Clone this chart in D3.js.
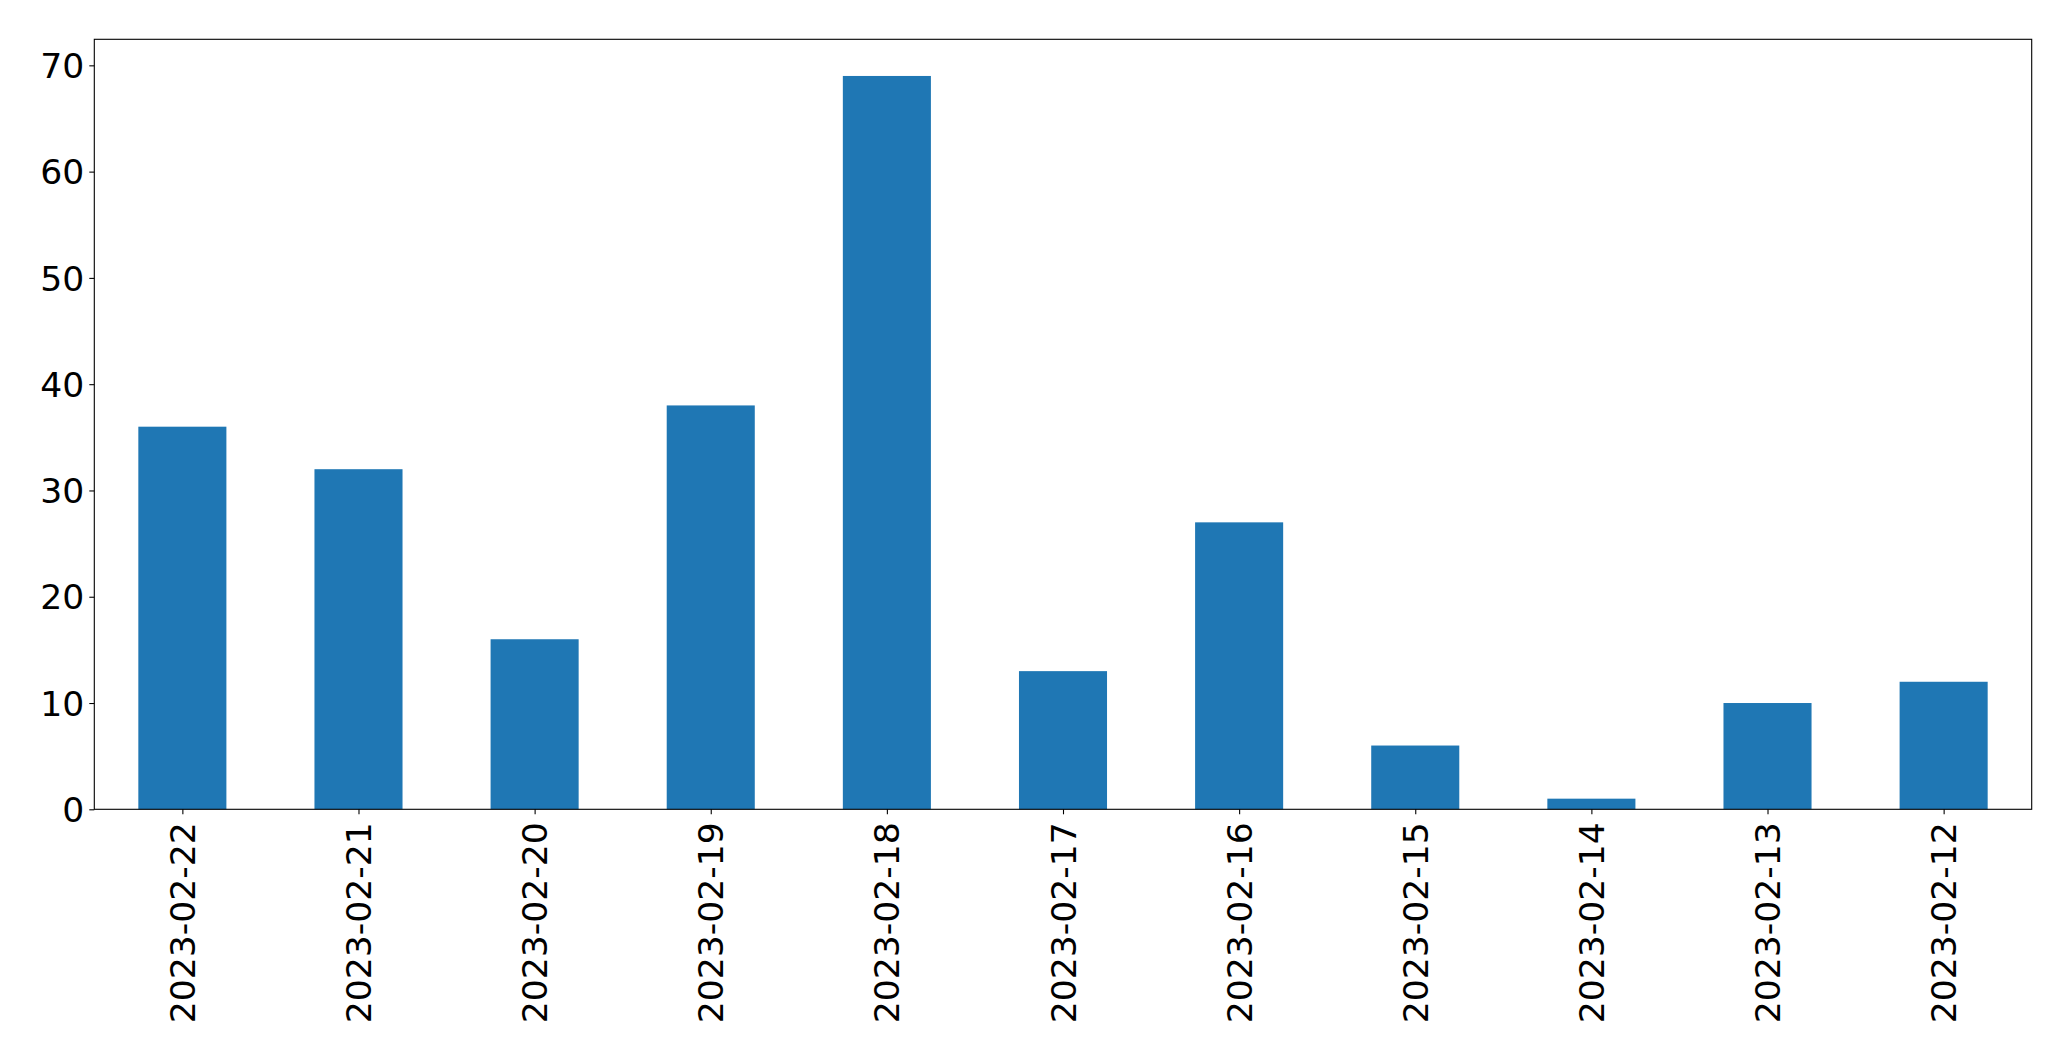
<!DOCTYPE html>
<html>
<head>
<meta charset="utf-8">
<script src="https://cdn.jsdelivr.net/npm/d3@7"></script>
<style>
html,body{margin:0;padding:0;background:#fff;}
svg{display:block;}
</style>
</head>
<body>
<script>
const categories = ["2023-02-22","2023-02-21","2023-02-20","2023-02-19","2023-02-18","2023-02-17","2023-02-16","2023-02-15","2023-02-14","2023-02-13","2023-02-12"];
const values = [36, 32, 16, 38, 69, 13, 27, 6, 1, 10, 12];
const yTicks = [0, 10, 20, 30, 40, 50, 60, 70];

const W = 2071, H = 1061;
const m = {left: 94.3, right: 2031.7, top: 39.3, bottom: 809.3};
const fontSize = 34.6;
const tickLen = 5, pad = 5;

const svg = d3.select("body").append("svg").attr("width", W).attr("height", H);

const x = d3.scaleLinear().domain([-0.5, categories.length - 0.5]).range([m.left, m.right]);
const yMax = d3.max(values) * 1.05;
const y = d3.scaleLinear().domain([0, yMax]).range([m.bottom, m.top]);

const barW = 0.5;
svg.append("g").selectAll("rect").data(values).join("rect")
  .attr("x", (d, i) => x(i - barW / 2))
  .attr("width", (d, i) => x(i + barW / 2) - x(i - barW / 2))
  .attr("y", d => y(d))
  .attr("height", d => y(0) - y(d))
  .attr("fill", "#1f77b4");

// frame
svg.append("rect")
  .attr("x", m.left).attr("y", m.top)
  .attr("width", m.right - m.left).attr("height", m.bottom - m.top)
  .attr("fill", "none").attr("stroke", "#000").attr("stroke-width", 1.1);

// y axis
const yAxis = d3.axisLeft(y).tickValues(yTicks).tickSize(tickLen).tickPadding(pad).tickFormat(d3.format("d"));
const gy = svg.append("g").attr("transform", `translate(${m.left},0)`).call(yAxis);
gy.select(".domain").remove();
gy.selectAll(".tick line").attr("stroke", "#000").attr("stroke-width", 1.1);
gy.selectAll(".tick text")
  .attr("font-family", "DejaVu Sans")
  .attr("font-size", fontSize)
  .attr("fill", "#000")
  .attr("dy", "0.35em");

// x axis
const xAxis = d3.axisBottom(x).tickValues(d3.range(categories.length)).tickSize(tickLen).tickFormat(i => categories[i]);
const gx = svg.append("g").attr("transform", `translate(0,${m.bottom})`).call(xAxis);
gx.select(".domain").remove();
gx.selectAll(".tick line").attr("stroke", "#000").attr("stroke-width", 1.1);
gx.selectAll(".tick text")
  .attr("font-family", "DejaVu Sans")
  .attr("font-size", fontSize)
  .attr("fill", "#000")
  .attr("y", 0).attr("dy", null)
  .attr("text-anchor", "end")
  .attr("dominant-baseline", "central")
  .attr("transform", `translate(0,${tickLen + pad + 3}) rotate(-90)`);
</script>
</body>
</html>
